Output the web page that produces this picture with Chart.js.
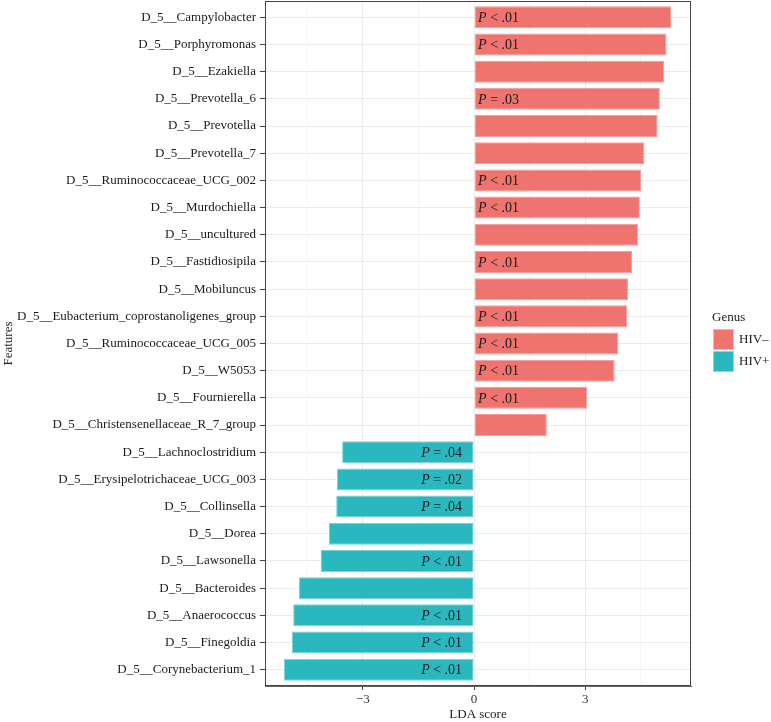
<!DOCTYPE html>
<html>
<head>
<meta charset="utf-8">
<script src="https://cdn.jsdelivr.net/npm/chart.js@4"></script>
<style>
  body { margin: 0; background: #fff; }
  #wrap { width: 771px; height: 722px; }
</style>
</head>
<body>
<div id="wrap"><canvas id="lda" width="771" height="722"></canvas></div>
<script>
// features, top to bottom
const features = [
  'D_5__Campylobacter', 'D_5__Porphyromonas', 'D_5__Ezakiella', 'D_5__Prevotella_6',
  'D_5__Prevotella', 'D_5__Prevotella_7', 'D_5__Ruminococcaceae_UCG_002', 'D_5__Murdochiella',
  'D_5__uncultured', 'D_5__Fastidiosipila', 'D_5__Mobiluncus', 'D_5__Eubacterium_coprostanoligenes_group',
  'D_5__Ruminococcaceae_UCG_005', 'D_5__W5053', 'D_5__Fournierella', 'D_5__Christensenellaceae_R_7_group',
  'D_5__Lachnoclostridium', 'D_5__Erysipelotrichaceae_UCG_003', 'D_5__Collinsella', 'D_5__Dorea',
  'D_5__Lawsonella', 'D_5__Bacteroides', 'D_5__Anaerococcus', 'D_5__Finegoldia', 'D_5__Corynebacterium_1'
]
const hivNeg = [5.32, 5.19, 5.13, 5.01, 4.95, 4.59, 4.51, 4.47, 4.43, 4.26, 4.15, 4.13, 3.89, 3.79, 3.05, 1.96,
  null, null, null, null, null, null, null, null, null]
const hivPos = [null, null, null, null, null, null, null, null, null, null, null, null, null, null, null, null,
  -3.56, -3.70, -3.72, -3.92, -4.14, -4.73, -4.88, -4.92, -5.13]
const pLabels = ['< .01', '< .01', '', '= .03', '', '', '< .01', '< .01', '', '< .01', '', '< .01', '< .01',
  '< .01', '< .01', '', '= .04', '= .02', '= .04', '', '< .01', '', '< .01', '< .01', '< .01']
const xTicks = [-3, 0, 3]

const serif = '"Liberation Serif", "DejaVu Serif", serif'
const red = '#EF736F'
const teal = '#2BB7BE'

// row index as the y value, so the axis can carry ggplot-like 0.6 padding
const toPoints = (arr) => arr.map((v, i) => v == null ? null : { x: v, y: i }).filter(p => p)

// p-values, panel frame and legend
const extras = {
  id: 'extras',
  afterDraw(chart) {
    const ctx = chart.ctx
    const area = chart.chartArea
    const x0 = chart.scales.x.getPixelForValue(0)
    ctx.save()
    ctx.textBaseline = 'middle'
    ctx.fillStyle = '#1a1a1a'
    chart.data.datasets.forEach((ds, di) => {
      chart.getDatasetMeta(di).data.forEach((bar, j) => {
        const pt = ds.data[j]
        const txt = pLabels[pt.y]
        if (!txt) return
        ctx.font = 'italic 14px ' + serif
        const wP = ctx.measureText('P').width
        ctx.font = '14px ' + serif
        const rest = ' ' + txt
        const wR = ctx.measureText(rest).width
        const left = pt.x > 0 ? x0 + 4 : x0 - 12 - wP - wR
        ctx.textAlign = 'left'
        ctx.font = 'italic 14px ' + serif
        ctx.fillText('P', left, bar.y + 1)
        ctx.font = '14px ' + serif
        ctx.fillText(rest, left + wP, bar.y + 1)
      })
    })

    ctx.strokeStyle = '#444'
    ctx.lineWidth = 1
    ctx.strokeRect(area.left + 0.5, area.top + 0.5, area.right - area.left - 1, area.bottom - area.top - 1)

    // legend
    const lx = area.right + 22
    const ly = 318
    ctx.fillStyle = '#1a1a1a'
    ctx.font = '13px ' + serif
    ctx.textAlign = 'left'
    ctx.fillText('Genus', lx - 1, ly)
    chart.data.datasets.forEach((ds, di) => {
      const top = ly + 11 + di * 22
      ctx.fillStyle = ds.backgroundColor
      ctx.fillRect(lx, top, 21, 21)
      ctx.strokeStyle = 'rgba(255,255,255,0.45)'
      ctx.strokeRect(lx + 0.5, top + 0.5, 20, 20)
      ctx.fillStyle = '#1a1a1a'
      ctx.fillText(ds.label, lx + 26, top + 11)
    })
    ctx.restore()
  }
}

new Chart(document.getElementById('lda'), {
  type: 'bar',
  data: {
    datasets: [
      { label: 'HIV\u2013', data: toPoints(hivNeg), backgroundColor: red, borderColor: '#F49C98', borderWidth: 1, borderSkipped: false },
      { label: 'HIV+', data: toPoints(hivPos), backgroundColor: teal, borderColor: '#7AD3D7', borderWidth: 1, borderSkipped: false }
    ]
  },
  options: {
    indexAxis: 'y',
    responsive: false,
    animation: false,
    barPercentage: 0.81,
    categoryPercentage: 1,
    layout: { padding: { top: 1, right: 80, left: 0, bottom: 0 } },
    plugins: { legend: { display: false }, tooltip: { enabled: false } },
    scales: {
      x: {
        type: 'linear',
        stacked: true,
        min: -5.64,
        max: 5.85,
        afterBuildTicks: (scale) => {
          scale.ticks = [-4.5, -3, -1.5, 0, 1.5, 3, 4.5].map(v => ({ value: v }))
        },
        afterFit: (scale) => { scale.height = 36; scale.paddingLeft = 0; scale.paddingRight = 0 },
        grid: {
          color: (c) => xTicks.includes(c.tick.value) ? '#EBEBEB' : '#F5F5F5',
          tickColor: (c) => xTicks.includes(c.tick.value) ? '#444' : 'rgba(0,0,0,0)',
          tickLength: 4
        },
        border: { color: '#666', width: 1 },
        ticks: {
          autoSkip: false,
          maxRotation: 0,
          padding: 2,
          color: '#333',
          font: { family: serif, size: 13 },
          callback: (v) => xTicks.includes(v) ? (v < 0 ? '\u2212' + Math.abs(v) : String(v)) : ''
        },
        title: { display: true, text: 'LDA score', color: '#1a1a1a', font: { family: serif, size: 13 }, padding: { top: 0, bottom: 0 } }
      },
      y: {
        type: 'linear',
        stacked: true,
        reverse: true,
        offset: false,
        min: -0.6,
        max: features.length - 0.4,
        afterBuildTicks: (scale) => {
          scale.ticks = features.map((f, i) => ({ value: i }))
        },
        afterFit: (scale) => { scale.width = 265; scale.paddingTop = 0; scale.paddingBottom = 0 },
        grid: { offset: false, color: '#EBEBEB', tickColor: '#444', tickLength: 5 },
        border: { color: '#666', width: 1 },
        ticks: {
          autoSkip: false,
          padding: 4,
          color: '#1a1a1a',
          font: { family: serif, size: 13 },
          callback: (v) => features[v]
        },
        title: { display: true, text: 'Features', color: '#1a1a1a', font: { family: serif, size: 13 }, padding: { top: 1, bottom: 0 } }
      }
    }
  },
  plugins: [extras]
})
</script>
</body>
</html>
